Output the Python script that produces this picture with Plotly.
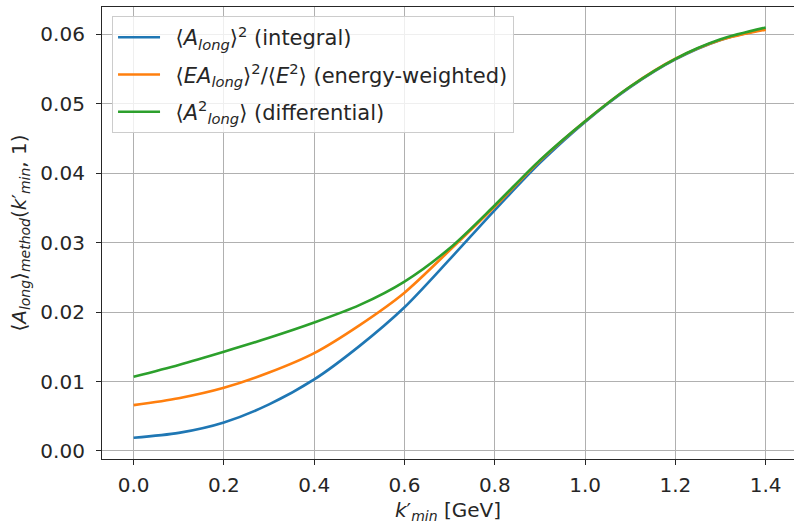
import plotly.graph_objects as go

k_min = [0.0, 0.1, 0.2, 0.3, 0.4, 0.5, 0.6, 0.7, 0.8, 0.9, 1.0, 1.1, 1.2, 1.3, 1.4]
integral = [0.0019, 0.0026, 0.0041, 0.0067, 0.0103, 0.0151, 0.0207, 0.0276, 0.0347, 0.0415, 0.0474, 0.0524, 0.0564, 0.0592, 0.0608]
energy_weighted = [0.0066, 0.0076, 0.0091, 0.0113, 0.0141, 0.0181, 0.0228, 0.0289, 0.0352, 0.0418, 0.0475, 0.0525, 0.0565, 0.0592, 0.0607]
differential = [0.0107, 0.0124, 0.0143, 0.0163, 0.0185, 0.0210, 0.0244, 0.0292, 0.0354, 0.0419, 0.0475, 0.0525, 0.0565, 0.0593, 0.0610]

names = [
    "\u2002⟨<i>A</i><sub><i>long</i></sub>⟩<sup>2</sup> (integral)",
    "\u2002⟨<i>EA</i><sub><i>long</i></sub>⟩<sup>2</sup>/⟨<i>E</i><sup>2</sup>⟩ (energy-weighted)",
    "\u2002⟨<i>A</i><sup>2</sup><sub><i>long</i></sub>⟩ (differential)",
]
colors = ["#1f77b4", "#ff7f0e", "#2ca02c"]
series = [integral, energy_weighted, differential]

FONT = "DejaVu Sans"
FS = 20
fig = go.Figure()
for i, (n, c, s) in enumerate(zip(names, colors, series)):
    fig.add_trace(go.Scatter(x=k_min, y=s, mode="lines", name=n, legendgroup=f"g{i}",
                             line=dict(color=c, width=2.6, shape="spline", smoothing=0.8)))

axis_common = dict(
    showgrid=True, gridcolor="#b0b0b0", gridwidth=1.1,
    showline=True, linecolor="#262626", linewidth=1.2,
    ticks="outside", ticklen=5, tickwidth=1.1, tickcolor="#262626",
    zeroline=False,
    tickfont=dict(family=FONT, size=FS, color="#262626"),
)

fig.update_layout(
    width=794, height=525,
    margin=dict(l=102, r=0, t=7, b=66),
    paper_bgcolor="white", plot_bgcolor="white",
    font=dict(family=FONT, size=FS, color="#262626"),
    xaxis=dict(range=[-0.07, 1.4627], dtick=0.2, tick0=0, tickformat=".1f",
               mirror=True, ticklabelstandoff=3,
               title=dict(text="<i>k</i>′<sub><i>min</i></sub> [GeV]", font=dict(family=FONT, size=FS), standoff=6),
               **axis_common),
    yaxis=dict(range=[-0.00116, 0.06396], dtick=0.01, tick0=0, tickformat=".2f",
               ticklabelstandoff=7,
               title=dict(text="⟨<i>A</i><sub><i>long</i></sub>⟩<sub><i>method</i></sub>(<i>k</i>′<sub><i>min</i></sub>, 1)",
                          font=dict(family=FONT, size=FS), standoff=8),
               **axis_common),
    legend=dict(x=0.0145, y=0.98, xanchor="left", yanchor="top",
                bgcolor="rgba(255,255,255,0.8)", bordercolor="#cccccc", borderwidth=1,
                font=dict(family=FONT, size=21, color="#262626"),
                itemwidth=42, tracegroupgap=7, traceorder="grouped"),
    showlegend=True,
)

fig.write_html("out.html")
